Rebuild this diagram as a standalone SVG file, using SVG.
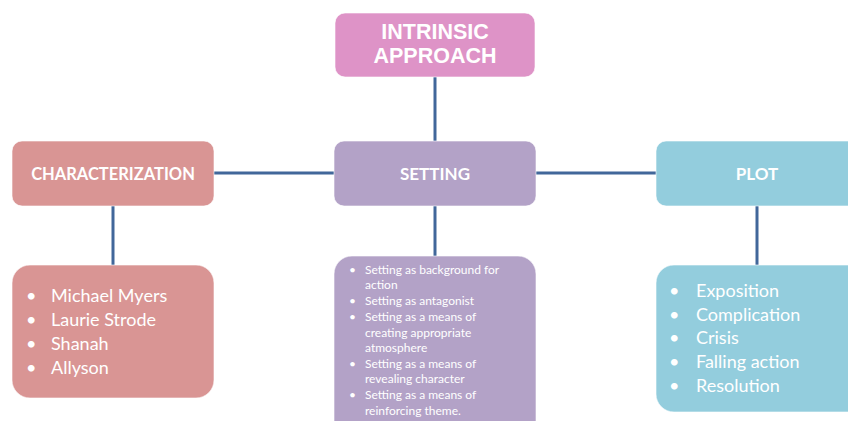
<svg xmlns="http://www.w3.org/2000/svg" width="848" height="421" viewBox="0 0 848 421">
<style>
.box{stroke:#ffffff;stroke-width:1;stroke-opacity:0.6}
.pink{fill:#de93c7}
.red{fill:#d99594}
.purple{fill:#b3a2c7}
.blue{fill:#93cddd}
.head{font-family:Lato,"Liberation Sans",sans-serif;font-weight:bold;fill:#ffffff;text-anchor:middle}
.title{font-family:"Liberation Sans",Arial,sans-serif;font-weight:bold;font-size:21.5px;fill:#ffffff;text-anchor:middle}
.item{font-family:Lato,"Liberation Sans",sans-serif;fill:#ffffff}
.conn line{stroke:#41679a;stroke-width:3}
</style>
<rect width="848" height="421" fill="#ffffff"/>
<g class="conn" id="connectors">
<line x1="435" y1="77" x2="435" y2="141"/>
<line x1="214" y1="173" x2="334" y2="173"/>
<line x1="536" y1="173" x2="656" y2="173"/>
<line x1="113" y1="206" x2="113" y2="265"/>
<line x1="435" y1="206" x2="435" y2="256"/>
<line x1="757" y1="206" x2="757" y2="265"/>
</g>
<g id="intrinsic">
<rect class="box pink" x="335" y="13" width="200" height="64" rx="10"/>
<text class="title" x="435" y="39">INTRINSIC</text>
<text class="title" x="435" y="63">APPROACH</text>
</g>
<g id="characterization">
<rect class="box red" x="12" y="141" width="202" height="65" rx="10"/>
<text class="head" x="113" y="180" font-size="16.5">CHARACTERIZATION</text>
</g>
<g id="setting">
<rect class="box purple" x="334" y="141" width="202" height="65" rx="10"/>
<text class="head" x="435" y="180" font-size="17">SETTING</text>
</g>
<g id="plot">
<rect class="box blue" x="656" y="141" width="210" height="65" rx="10"/>
<text class="head" x="757" y="180" font-size="17">PLOT</text>
</g>
<g id="characterization-list">
<rect class="box red" x="12" y="265" width="202" height="133" rx="18"/>
<g class="item" font-size="18">
<text x="26" y="302">•</text><text x="51" y="302">Michael Myers</text>
<text x="26" y="326">•</text><text x="51" y="326">Laurie Strode</text>
<text x="26" y="350">•</text><text x="51" y="350">Shanah</text>
<text x="26" y="374">•</text><text x="51" y="374">Allyson</text>
</g>
</g>
<g id="setting-list">
<rect class="box purple" x="334" y="256" width="202" height="185" rx="18"/>
<g class="item" font-size="12">
<text x="349" y="274">•</text><text x="365" y="274">Setting as background for</text>
<text x="365" y="289">action</text>
<text x="349" y="305">•</text><text x="365" y="305">Setting as antagonist</text>
<text x="349" y="321">•</text><text x="365" y="321">Setting as a means of</text>
<text x="365" y="337">creating appropriate</text>
<text x="365" y="352">atmosphere</text>
<text x="349" y="368">•</text><text x="365" y="368">Setting as a means of</text>
<text x="365" y="383">revealing character</text>
<text x="349" y="399">•</text><text x="365" y="399">Setting as a means of</text>
<text x="365" y="415">reinforcing theme.</text>
</g>
</g>
<g id="plot-list">
<rect class="box blue" x="656" y="265" width="210" height="147" rx="18"/>
<g class="item" font-size="18">
<text x="669" y="297">•</text><text x="696" y="297">Exposition</text>
<text x="669" y="321">•</text><text x="696" y="321">Complication</text>
<text x="669" y="344">•</text><text x="696" y="344">Crisis</text>
<text x="669" y="368">•</text><text x="696" y="368">Falling action</text>
<text x="669" y="392">•</text><text x="696" y="392">Resolution</text>
</g>
</g>
</svg>
